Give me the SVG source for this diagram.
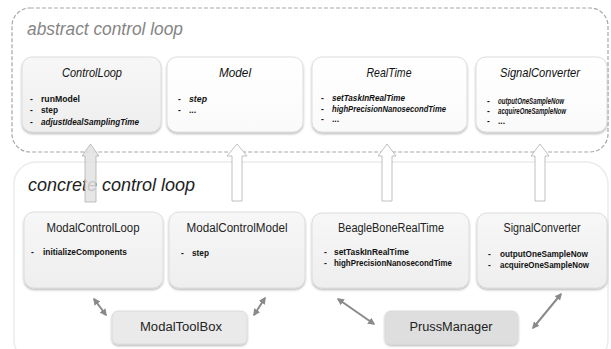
<svg xmlns="http://www.w3.org/2000/svg" width="611" height="349" viewBox="0 0 611 349">
<defs>
<linearGradient id="gw" x1="0" y1="0" x2="0" y2="1"><stop offset="0" stop-color="#ffffff"/><stop offset="1" stop-color="#fafafa"/></linearGradient>
<linearGradient id="gg" x1="0" y1="0" x2="0" y2="1"><stop offset="0" stop-color="#f7f7f7"/><stop offset="1" stop-color="#eeeeee"/></linearGradient>
<filter id="sh" x="-10%" y="-10%" width="120%" height="130%"><feDropShadow dx="0" dy="1.5" stdDeviation="1.1" flood-color="#000" flood-opacity="0.3"/></filter>
<marker id="ah" viewBox="0 0 10 10" refX="8" refY="5" markerWidth="3.6" markerHeight="3.6" orient="auto-start-reverse"><path d="M0,0 L10,5 L0,10 z" fill="#8a8a8a"/></marker>
</defs>
<style>
.frame{fill:none;stroke:#a8a8a8;stroke-width:1.2;stroke-dasharray:4 2}
.cframe{fill:#fff;stroke:#ebebeb;stroke-width:1.5}
.head{font-family:"Liberation Sans",Arial,sans-serif;font-style:italic;font-size:18px}
.node{stroke:#d8d8d8;stroke-width:0.8;filter:url(#sh)}
.ti{font-family:"Liberation Sans",Arial,sans-serif;font-style:italic;font-size:13px;fill:#111;text-anchor:middle}
.tr{font-family:"Liberation Sans",Arial,sans-serif;font-size:12.5px;fill:#222;text-anchor:middle}
.it{font-family:"Liberation Sans",Arial,sans-serif;font-weight:bold;font-size:8.5px;fill:#111}
.iti{font-style:italic}
.up{stroke:#b0b0b0;stroke-width:0.8}
.dbl{stroke:#8a8a8a;stroke-width:2;fill:none;marker-start:url(#ah);marker-end:url(#ah)}
</style>

<rect class="frame" x="12" y="8" width="596" height="144" rx="18"/>
<text class="head" x="27" y="35" fill="#858585" textLength="156" lengthAdjust="spacingAndGlyphs">abstract control loop</text>

<rect class="cframe" x="14" y="162" width="594" height="200" rx="22"/>
<text class="head" x="28" y="191" fill="#222" textLength="167" lengthAdjust="spacingAndGlyphs">concrete control loop</text>

<g id="ControlLoop">
<rect class="node" x="22" y="57" width="139" height="75" rx="10" fill="url(#gg)"/>
<text class="ti" x="92" y="77" textLength="60" lengthAdjust="spacingAndGlyphs">ControlLoop</text>
<text class="it" x="30" y="102">-</text><text class="it" x="41" y="102" textLength="39" lengthAdjust="spacingAndGlyphs">runModel</text>
<text class="it" x="30" y="113">-</text><text class="it" x="41" y="113" textLength="17" lengthAdjust="spacingAndGlyphs">step</text>
<text class="it" x="30" y="125">-</text><text class="it iti" x="41" y="125" textLength="98" lengthAdjust="spacingAndGlyphs">adjustIdealSamplingTime</text>
</g>
<g id="Model">
<rect class="node" x="167" y="57" width="136" height="75" rx="10" fill="url(#gw)"/>
<text class="ti" x="235" y="77" textLength="32" lengthAdjust="spacingAndGlyphs">Model</text>
<text class="it" x="178" y="102">-</text><text class="it iti" x="189" y="102" textLength="18" lengthAdjust="spacingAndGlyphs">step</text>
<text class="it" x="178" y="113">-</text><text class="it" x="189" y="113">...</text>
</g>
<g id="RealTime">
<rect class="node" x="312" y="57" width="155" height="75" rx="10" fill="url(#gw)"/>
<text class="ti" x="389" y="77" textLength="45" lengthAdjust="spacingAndGlyphs">RealTime</text>
<text class="it" x="321" y="101">-</text><text class="it iti" x="332" y="101" textLength="73" lengthAdjust="spacingAndGlyphs">setTaskInRealTime</text>
<text class="it" x="321" y="112">-</text><text class="it iti" x="332" y="112" textLength="114" lengthAdjust="spacingAndGlyphs">highPrecisionNanosecondTime</text>
<text class="it" x="321" y="122">-</text><text class="it" x="332" y="122">...</text>
</g>
<g id="SignalConverterAbstract">
<rect class="node" x="476" y="57" width="131" height="75" rx="10" fill="url(#gw)"/>
<text class="ti" x="540" y="77" textLength="80" lengthAdjust="spacingAndGlyphs">SignalConverter</text>
<text class="it" x="487" y="104">-</text><text class="it iti" x="498" y="104" textLength="66" lengthAdjust="spacingAndGlyphs">outputOneSampleNow</text>
<text class="it" x="487" y="114">-</text><text class="it iti" x="498" y="114" textLength="68" lengthAdjust="spacingAndGlyphs">acquireOneSampleNow</text>
<text class="it" x="487" y="124">-</text><text class="it" x="498" y="124">...</text>
</g>

<g id="ModalControlLoop">
<rect class="node" x="24" y="212" width="139" height="76" rx="10" fill="url(#gg)"/>
<text class="tr" x="93" y="232" textLength="93" lengthAdjust="spacingAndGlyphs">ModalControlLoop</text>
<text class="it" x="31" y="255">-</text><text class="it" x="43" y="255" textLength="84" lengthAdjust="spacingAndGlyphs">initializeComponents</text>
</g>
<g id="ModalControlModel">
<rect class="node" x="169" y="212" width="136" height="76" rx="10" fill="url(#gg)"/>
<text class="tr" x="237" y="232" textLength="101" lengthAdjust="spacingAndGlyphs">ModalControlModel</text>
<text class="it" x="181" y="256">-</text><text class="it" x="192" y="256" textLength="17" lengthAdjust="spacingAndGlyphs">step</text>
</g>
<g id="BeagleBoneRealTime">
<rect class="node" x="312" y="213" width="157" height="75" rx="10" fill="url(#gg)"/>
<text class="tr" x="391" y="232" textLength="106" lengthAdjust="spacingAndGlyphs">BeagleBoneRealTime</text>
<text class="it" x="324" y="255">-</text><text class="it" x="334" y="255" textLength="75" lengthAdjust="spacingAndGlyphs">setTaskInRealTime</text>
<text class="it" x="324" y="266">-</text><text class="it" x="334" y="266" textLength="118" lengthAdjust="spacingAndGlyphs">highPrecisionNanosecondTime</text>
</g>
<g id="SignalConverterConcrete">
<rect class="node" x="477" y="213" width="130" height="75" rx="10" fill="url(#gg)"/>
<text class="tr" x="542" y="232" textLength="77" lengthAdjust="spacingAndGlyphs">SignalConverter</text>
<text class="it" x="488" y="257">-</text><text class="it" x="500" y="257" textLength="88" lengthAdjust="spacingAndGlyphs">outputOneSampleNow</text>
<text class="it" x="488" y="268">-</text><text class="it" x="500" y="268" textLength="89" lengthAdjust="spacingAndGlyphs">acquireOneSampleNow</text>
</g>
<g id="ModalToolBox">
<rect class="node" x="112" y="311" width="135" height="33" rx="6" fill="#eaeaea"/>
<text class="tr" x="181" y="331" textLength="82" lengthAdjust="spacingAndGlyphs">ModalToolBox</text>
</g>
<g id="PrussManager">
<rect class="node" x="385" y="311" width="133" height="33" rx="6" fill="#dedede"/>
<text class="tr" x="451" y="331" textLength="83" lengthAdjust="spacingAndGlyphs">PrussManager</text>
</g>

<g id="connectors">
<polygon class="up" fill="#e2e2e2" fill-opacity="0.85" points="90.5,144 99,156 96,156 96,202 85,202 85,156 82,156"/>
<polygon class="up" fill="#fff" points="237,144 247,156 242,156 242,201 232,201 232,156 227,156"/>
<polygon class="up" fill="#fff" points="387,144 396,156 392,156 392,201 382,201 382,156 378,156"/>
<polygon class="up" fill="#fff" points="540,144 549,156 545,156 545,201 535,201 535,156 531,156"/>
<line class="dbl" x1="94" y1="299" x2="106" y2="315"/>
<line class="dbl" x1="265" y1="298" x2="254" y2="315"/>
<line class="dbl" x1="338" y1="299" x2="374" y2="324"/>
<line class="dbl" x1="561" y1="294" x2="533" y2="328"/>
</g>
</svg>
